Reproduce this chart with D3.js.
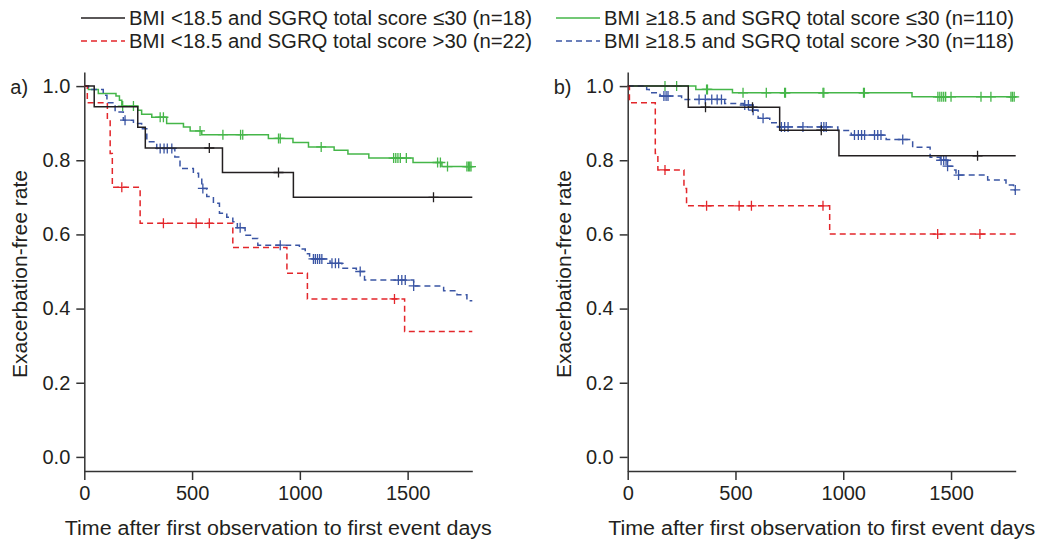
<!DOCTYPE html>
<html>
<head>
<meta charset="utf-8">
<script src="https://cdn.jsdelivr.net/npm/d3@7"></script>
<style>
  body { margin: 0; background: #fff; }
  svg text { font-family: "Liberation Sans", Arial, sans-serif; fill: #231f20; }
</style>
</head>
<body>
<svg id="chart" width="1037" height="541"></svg>
<script>
(function () {
  'use strict';

  // Kaplan-Meier steps: [day, survival] at each event
  const aBlack = [[0, 1], [46, 0.944], [248, 0.889], [283, 0.833], [641, 0.767], [970, 0.70]];
  const aBlackCens = [580, 901, 1620];

  const aRed = [[0, 1], [14, 0.955], [107, 0.909], [120, 0.818], [130, 0.727], [259, 0.63],
    [689, 0.565], [940, 0.495], [1035, 0.426], [1486, 0.338]];
  const aRedCens = [174, 367, 519, 580, 1439];

  const aGreen = [[0, 1], [19, 0.991], [65, 0.98], [147, 0.973], [163, 0.962], [174, 0.946],
    [248, 0.935], [266, 0.924], [313, 0.916], [382, 0.899], [460, 0.89], [491, 0.879],
    [545, 0.869], [854, 0.859], [968, 0.848], [1040, 0.836], [1159, 0.827], [1223, 0.817],
    [1320, 0.806], [1525, 0.794], [1659, 0.783]];
  const aGreenCens = [178, 228, 352, 367, 537, 643, 725, 735, 901, 909, 1099, 1435, 1445,
    1455, 1466, 1494, 1639, 1652, 1685, 1775, 1782, 1788, 1794];

  const aBlue = [[0, 1], [19, 0.991], [88, 0.975], [105, 0.955], [143, 0.93], [181, 0.908],
    [228, 0.899], [266, 0.885], [290, 0.85], [336, 0.832], [420, 0.809], [444, 0.778],
    [506, 0.765], [530, 0.751], [545, 0.724], [568, 0.702], [599, 0.684], [627, 0.657],
    [661, 0.646], [689, 0.634], [710, 0.618], [746, 0.598], [777, 0.589], [805, 0.571],
    [998, 0.561], [1025, 0.548], [1045, 0.534], [1140, 0.522], [1195, 0.509], [1262, 0.50],
    [1300, 0.477], [1528, 0.461], [1667, 0.448], [1729, 0.437], [1775, 0.421]];
  const aBlueCens = [189, 352, 370, 385, 406, 550, 723, 909, 1063, 1072, 1082, 1092, 1102,
    1149, 1165, 1180, 1280, 1457, 1473, 1489, 1528];

  const bBlack = [[0, 1], [281, 0.943], [705, 0.881], [980, 0.812]];
  const bBlackCens = [361, 579, 898, 1623];

  const bRed = [[0, 1], [8, 0.955], [128, 0.818], [140, 0.774], [261, 0.724], [273, 0.677], [937, 0.601]];
  const bRedCens = [173, 366, 517, 574, 906, 1438, 1634];

  const bGreen = [[0, 1], [316, 0.991], [486, 0.982], [1319, 0.971]];
  const bGreenCens = [173, 227, 366, 370, 535, 643, 728, 732, 906, 910, 1094, 1098, 1439,
    1448, 1457, 1466, 1475, 1500, 1639, 1685, 1778, 1785, 1793];

  const bBlue = [[0, 1], [88, 0.991], [100, 0.982], [150, 0.973], [250, 0.964], [450, 0.953],
    [540, 0.949], [582, 0.935], [605, 0.913], [659, 0.901], [697, 0.89], [975, 0.88],
    [1037, 0.868], [1199, 0.856], [1322, 0.835], [1403, 0.808], [1450, 0.80], [1484, 0.784],
    [1508, 0.774], [1523, 0.76], [1670, 0.747], [1755, 0.733], [1790, 0.72]];
  const bBlueCens = [168, 178, 187, 331, 360, 390, 415, 435, 543, 560, 582, 628, 713, 728,
    744, 813, 898, 910, 921, 1052, 1070, 1085, 1099, 1145, 1160, 1175, 1276, 1454, 1466,
    1477, 1484, 1535, 1798];

  const xTicks = [0, 500, 1000, 1500];
  const yTicks = [0, 0.2, 0.4, 0.6, 0.8, 1.0];
  const legendLabels = [
    'BMI <18.5 and SGRQ total score \u226430 (n=18)',
    'BMI <18.5 and SGRQ total score >30 (n=22)',
    'BMI \u226518.5 and SGRQ total score \u226430 (n=110)',
    'BMI \u226518.5 and SGRQ total score >30 (n=118)'
  ];

  const styles = {
    black: { color: '#231f20', dash: null },
    red: { color: '#e3262b', dash: '6,4' },
    green: { color: '#45b649', dash: null },
    blue: { color: '#3a55a4', dash: '6,4' }
  };

  const svg = d3.select('#chart');
  const maxDay = 1800;

  // legend
  const legendItems = [
    { label: legendLabels[0], key: 'black', x: 81, y: 18, w: 403 },
    { label: legendLabels[1], key: 'red', x: 81, y: 41, w: 403 },
    { label: legendLabels[2], key: 'green', x: 556, y: 18, w: 410 },
    { label: legendLabels[3], key: 'blue', x: 556, y: 41, w: 410 }
  ];
  legendItems.forEach(function (d) {
    svg.append('line')
      .attr('x1', d.x).attr('x2', d.x + 44)
      .attr('y1', d.y).attr('y2', d.y)
      .attr('stroke', styles[d.key].color)
      .attr('stroke-width', 1.5)
      .attr('stroke-dasharray', styles[d.key].dash);
    svg.append('text')
      .attr('x', d.x + 48).attr('y', d.y + 7)
      .attr('font-size', 20)
      .attr('textLength', d.w)
      .attr('lengthAdjust', 'spacingAndGlyphs')
      .text(d.label);
  });

  function valueAt(steps, t) {
    let v = steps[0][1];
    steps.forEach(function (s) { if (s[0] <= t) { v = s[1]; } });
    return v;
  }

  function drawPanel(left, tag, curves) {
    const x = d3.scaleLinear().domain([0, maxDay]).range([left, left + 388]);
    const y = d3.scaleLinear().domain([-0.038, 1.038]).range([471, 72]);
    const g = svg.append('g');

    const xAxis = g.append('g')
      .attr('transform', 'translate(0,471)')
      .call(d3.axisBottom(x).tickValues(xTicks).tickFormat(d3.format('d'))
        .tickSize(9).tickPadding(6).tickSizeOuter(0));
    const yAxis = g.append('g')
      .attr('transform', 'translate(' + left + ',0)')
      .call(d3.axisLeft(y).tickValues(yTicks).tickFormat(d3.format('.1f'))
        .tickSize(8).tickPadding(6).tickSizeOuter(0));
    [xAxis, yAxis].forEach(function (ax) {
      ax.select('.domain').attr('stroke', '#333').attr('stroke-width', 1.5);
      ax.selectAll('.tick line').attr('stroke', '#333').attr('stroke-width', 1.5);
      ax.selectAll('.tick text').attr('font-size', 20).attr('fill', '#231f20')
        .style('font-family', '"Liberation Sans", Arial, sans-serif');
    });

    g.append('text')
      .attr('x', left + 194).attr('y', 535)
      .attr('text-anchor', 'middle')
      .attr('font-size', 20)
      .attr('textLength', 427)
      .attr('lengthAdjust', 'spacingAndGlyphs')
      .text('Time after first observation to first event days');
    g.append('text')
      .attr('transform', 'translate(' + (left - 57) + ',274) rotate(-90)')
      .attr('text-anchor', 'middle')
      .attr('font-size', 20)
      .attr('textLength', 208)
      .attr('lengthAdjust', 'spacingAndGlyphs')
      .text('Exacerbation-free rate');
    g.append('text')
      .attr('x', left - 74).attr('y', 94)
      .attr('font-size', 20)
      .text(tag);

    const line = d3.line()
      .x(function (d) { return x(d[0]); })
      .y(function (d) { return y(d[1]); })
      .curve(d3.curveStepAfter);

    curves.forEach(function (c) {
      const st = styles[c.key];
      const pts = c.steps.concat([[maxDay, c.steps[c.steps.length - 1][1]]]);
      g.append('path')
        .datum(pts)
        .attr('fill', 'none')
        .attr('stroke', st.color)
        .attr('stroke-width', 1.5)
        .attr('stroke-dasharray', st.dash)
        .attr('d', line);

      g.selectAll(null)
        .data(c.cens)
        .enter()
        .append('path')
        .attr('stroke', st.color)
        .attr('stroke-width', 1.3)
        .attr('fill', 'none')
        .attr('d', function (t) {
          const cx = x(t);
          const cy = y(valueAt(c.steps, t));
          return 'M' + (cx - 5) + ',' + cy + 'H' + (cx + 5) + 'M' + cx + ',' + (cy - 5) + 'V' + (cy + 5);
        });
    });
  }

  drawPanel(84.3, 'a)', [
    { key: 'green', steps: aGreen, cens: aGreenCens },
    { key: 'blue', steps: aBlue, cens: aBlueCens },
    { key: 'red', steps: aRed, cens: aRedCens },
    { key: 'black', steps: aBlack, cens: aBlackCens }
  ]);

  drawPanel(627.7, 'b)', [
    { key: 'green', steps: bGreen, cens: bGreenCens },
    { key: 'blue', steps: bBlue, cens: bBlueCens },
    { key: 'red', steps: bRed, cens: bRedCens },
    { key: 'black', steps: bBlack, cens: bBlackCens }
  ]);
}());
</script>
</body>
</html>
